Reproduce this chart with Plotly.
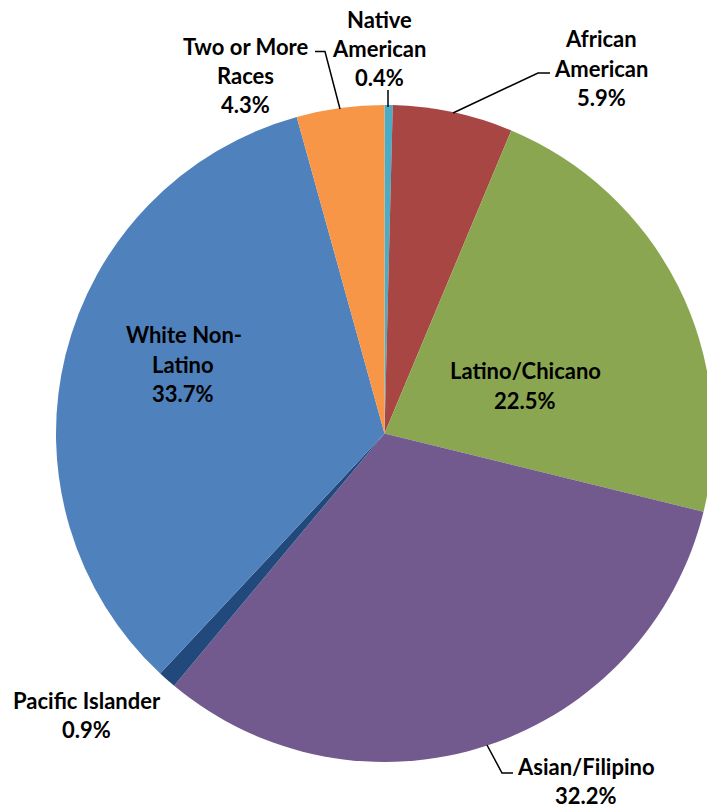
import plotly.graph_objects as go

# ---- data ----
categories = ["Native American", "African American", "Latino/Chicano", "Asian/Filipino",
              "Pacific Islander", "White Non-Latino", "Two or More Races"]
values = [0.4, 5.9, 22.5, 32.2, 0.9, 33.7, 4.3]
colors = ["#4BACC6", "#A84644", "#8BA650", "#735A8E", "#21497C", "#4F81BD", "#F79646"]

# label text lines per category (displayed)
label_lines = {
    "Native American": ["Native", "American", "0.4%"],
    "African American": ["African", "American", "5.9%"],
    "Latino/Chicano": ["Latino/Chicano", "22.5%"],
    "Asian/Filipino": ["Asian/Filipino", "32.2%"],
    "Pacific Islander": ["Pacific Islander", "0.9%"],
    "White Non-Latino": ["White Non-", "Latino", "33.7%"],
    "Two or More Races": ["Two or More", "Races", "4.3%"],
}

# ---- layout (pixel geometry) ----
W, H = 720, 807
CX, CY, R = 384.5, 433.5, 328.5
LINE = 29.5

# label anchor: (x center, y center of first line) in pixels
label_pos = {
    "Native American": (379, 19),
    "African American": (601, 38.5),
    "Latino/Chicano": (525, 370.5),
    "Asian/Filipino": (586, 766),
    "Pacific Islander": (86.5, 700),
    "White Non-Latino": (184.5, 334.5),
    "Two or More Races": (245, 46),
}
label_align = {"White Non-Latino": "left"}

leaders = [
    [(315, 51.5), (325, 51.5), (340, 109)],
    [(388, 90), (388, 107)],
    [(550, 73), (538, 73), (453, 113)],
    [(487, 745), (502, 773), (513, 773)],
]


def px(x, y):
    return x / W, 1 - y / H


fig = go.Figure(go.Pie(
    labels=categories,
    values=values,
    marker=dict(colors=colors, line=dict(width=0)),
    sort=False,
    direction="clockwise",
    rotation=0,
    textinfo="none",
    hoverinfo="label+percent",
    showlegend=False,
    domain=dict(x=[(CX - R) / W, (CX + R) / W], y=[1 - (CY + R) / H, 1 - (CY - R) / H]),
))

FONT = dict(family="Lato, 'Open Sans', sans-serif", size=22, color="#000000", weight="bold")

annotations = []
for cat in categories:
    x0, y0 = label_pos[cat]
    lines = label_lines[cat]
    if cat == "White Non-Latino":
        # first line left-aligned block; others centered under it
        xs = [184.5, 182.5, 182.5]
    else:
        xs = [x0] * len(lines)
    for i, t in enumerate(lines):
        xp, yp = px(xs[i], y0 + i * LINE)
        annotations.append(dict(
            text=t, x=xp, y=yp, xref="paper", yref="paper",
            xanchor="center", yanchor="middle", showarrow=False, font=FONT,
        ))

shapes = []
for pts in leaders:
    path = ""
    for j, (x, y) in enumerate(pts):
        xp, yp = px(x, y)
        path += ("M" if j == 0 else " L") + f" {xp:.5f},{yp:.5f}"
    shapes.append(dict(type="path", path=path, xref="paper", yref="paper",
                       line=dict(color="#000000", width=1.5)))

fig.update_layout(
    width=W, height=H,
    margin=dict(l=0, r=0, t=0, b=0),
    paper_bgcolor="white", plot_bgcolor="white",
    annotations=annotations,
    shapes=shapes,
)

fig.write_html(
    "out.html",
    config={"displayModeBar": False},
    post_script="document.body.style.margin='0';document.body.style.overflow='hidden';"
                "document.documentElement.style.overflow='hidden';",
)
